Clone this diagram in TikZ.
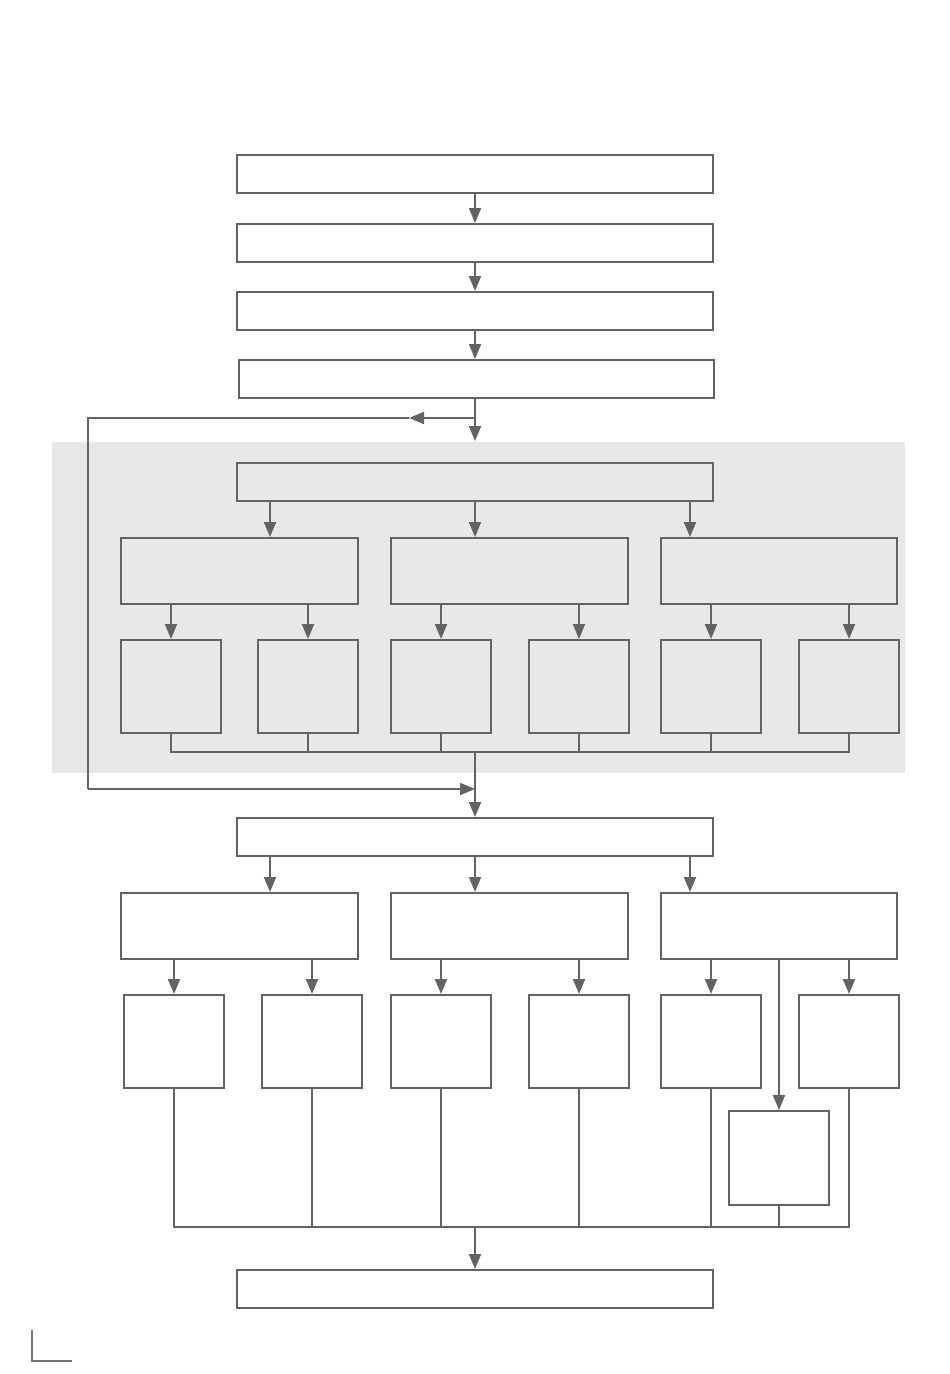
\documentclass[tikz,border=0pt]{standalone}
\usetikzlibrary{arrows.meta,calc}
\definecolor{ln}{HTML}{636363}
\definecolor{grp}{HTML}{E8E8E8}
\definecolor{mark}{HTML}{777777}
\begin{document}
\begin{tikzpicture}[x=1pt,y=-1pt,
  line width=2pt, draw=ln,
  box/.style={draw=ln, line width=2pt, inner sep=0pt, rectangle},
  wide/.style={box, minimum width=476pt, minimum height=38pt},
  mid/.style={box, minimum width=237pt, minimum height=66pt},
  small/.style={box, minimum width=100pt, minimum height=93pt},
  arr/.style={draw=ln, line width=2pt, -{Triangle[length=15pt,width=12pt]}},
  wire/.style={draw=ln, line width=2pt}
]
\useasboundingbox (0,0) rectangle (950,1374);
% grey region
\node[fill=grp, inner sep=0pt, minimum width=853pt, minimum height=331pt] (grp) at (478.5,607.5) {};
% top chain
\node[wide] (B1) at (475,174) {};
\node[wide] (B2) at (475,243) {};
\node[wide] (B3) at (475,311) {};
\node[box, minimum width=475pt, minimum height=38pt] (B4) at (476.5,379) {};
\draw[arr] (B1.south) -- (B2.north);
\draw[arr] (B2.south) -- (B3.north);
\draw[arr] (B3.south) -- (B3.south |- B4.north);
% upper block
\node[wide] (B5) at (475,482) {};
\node[mid] (A1) at (239.5,571) {};
\node[mid] (A2) at (509.5,571) {};
\node[box, minimum width=236pt, minimum height=66pt] (A3) at (779,571) {};
\node[small] (s1) at (171,686.5) {};
\node[small] (s2) at (308,686.5) {};
\node[small] (s3) at (441,686.5) {};
\node[small] (s4) at (579,686.5) {};
\node[small] (s5) at (711,686.5) {};
\node[small] (s6) at (849,686.5) {};
\draw[arr] ([xshift=-205pt]B5.south) -- ([xshift=-205pt]B5.south |- A1.north);
\draw[arr] (B5.south) -- (B5.south |- A2.north);
\draw[arr] ([xshift=215pt]B5.south) -- ([xshift=215pt]B5.south |- A3.north);
\draw[arr] (s1.north |- A1.south) -- (s1.north);
\draw[arr] (s2.north |- A1.south) -- (s2.north);
\draw[arr] (s3.north |- A2.south) -- (s3.north);
\draw[arr] (s4.north |- A2.south) -- (s4.north);
\draw[arr] (s5.north |- A3.south) -- (s5.north);
\draw[arr] (s6.north |- A3.south) -- (s6.north);
\coordinate (bus1) at (475,752);
\draw[wire] (s1.south) -- (s1.south |- bus1) -- (s6.south |- bus1) -- (s6.south);
\foreach \n in {s2,s3,s4,s5} \draw[wire] (\n.south) -- (\n.south |- bus1);
% loop
\coordinate (lp1) at (88,418);
\coordinate (lp2) at (88,789);
\coordinate (lpa) at (409,418);
\draw[arr] (B4.south -| B5.north) -- (B5.north |- grp.north);
\draw[arr] (B5.north |- lp1) -- (lpa);
\draw[wire] (lpa) -- (lp1) -- (lp2);
% lower block
\node[wide] (B6) at (475,837) {};
\draw[arr] (lp2) -- (lp2 -| B6.north);
\draw[arr] (bus1) -- (B6.north);
\node[mid] (C1) at (239.5,926) {};
\node[mid] (C2) at (509.5,926) {};
\node[box, minimum width=236pt, minimum height=66pt] (C3) at (779,926) {};
\node[small] (t1) at (174,1041.5) {};
\node[small] (t2) at (312,1041.5) {};
\node[small] (t3) at (441,1041.5) {};
\node[small] (t4) at (579,1041.5) {};
\node[small] (t5) at (711,1041.5) {};
\node[small] (t6) at (849,1041.5) {};
\node[box, minimum width=100pt, minimum height=94pt] (t7) at (779,1158) {};
\draw[arr] ([xshift=-205pt]B6.south) -- ([xshift=-205pt]B6.south |- C1.north);
\draw[arr] (B6.south) -- (B6.south |- C2.north);
\draw[arr] ([xshift=215pt]B6.south) -- ([xshift=215pt]B6.south |- C3.north);
\draw[arr] (t1.north |- C1.south) -- (t1.north);
\draw[arr] (t2.north |- C1.south) -- (t2.north);
\draw[arr] (t3.north |- C2.south) -- (t3.north);
\draw[arr] (t4.north |- C2.south) -- (t4.north);
\draw[arr] (t5.north |- C3.south) -- (t5.north);
\draw[arr] (t6.north |- C3.south) -- (t6.north);
\draw[arr] (t7.north |- C3.south) -- (t7.north);
\coordinate (bus2) at (475,1227);
\draw[wire] (t1.south) -- (t1.south |- bus2) -- (t6.south |- bus2) -- (t6.south);
\foreach \n in {t2,t3,t4,t5,t7} \draw[wire] (\n.south) -- (\n.south |- bus2);
\node[wide] (B7) at (475,1289) {};
\draw[arr] (bus2) -- (B7.north);
% corner mark
\draw[draw=mark, line width=2pt] (32,1330) -- (32,1361) -- (72,1361);
\end{tikzpicture}
\end{document}
